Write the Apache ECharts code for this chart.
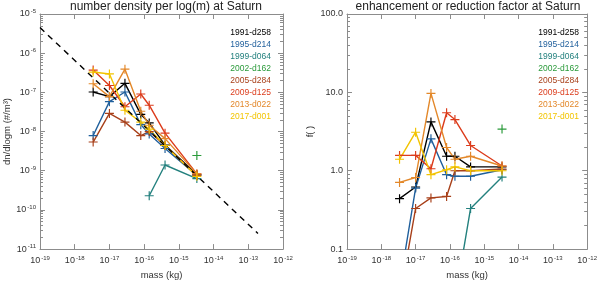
<!DOCTYPE html>
<html><head><meta charset="utf-8">
<script src="https://cdn.jsdelivr.net/npm/echarts@6/dist/echarts.min.js"></script>
<style>html,body{margin:0;padding:0;background:#fff}#c{width:600px;height:285px}</style>
</head><body><div id="c"></div>
<script>
// ---- data ----
const massKg = [3.4e-18, 1.0e-17, 2.8e-17, 8.0e-17, 1.4e-16, 4.0e-16, 3.3e-15];
const seriesNames = ['1991-d258','1995-d214','1999-d064','2002-d162','2005-d284','2009-d125','2013-d022','2017-d001'];
const seriesColors = ['#000000','#1f5f9c','#23807e','#2a9a3a','#a8401a','#dc3c1c','#e3882a','#f2c400'];
// number density dn/dlogm (#/m^3)
const dens1991 = [1.02e-7, 7.8e-8, 1.7e-7, 2.75e-8, 1.66e-8, 4.5e-9, 8.0e-10];
const dens1995 = [7.9e-9, 5.8e-8, 1.02e-7, 1.5e-8, 8.7e-9, 3.7e-9, 7.6e-10];
const dens1999 = [null, null, null, null, 2.3e-10, 1.4e-9, 6.3e-10];
const dens2002 = [null, null, null, null, null, null, 2.45e-9];
const dens2005 = [5.4e-9, 2.9e-8, 1.74e-8, 7.9e-9, 1.0e-8, 4.4e-9, 7.6e-10];
const dens2009 = [3.7e-7, 1.5e-7, 4.3e-8, 9.1e-8, 4.7e-8, 9.1e-9, 8.3e-10];
const dens2013 = [1.66e-7, 7.8e-8, 3.9e-7, 3.3e-8, 1.45e-8, 6.6e-9, 8.3e-10];
const dens2017 = [3.3e-7, 2.95e-7, 3.5e-8, 1.74e-8, 1.15e-8, 4.4e-9, 7.2e-10];
// enhancement / reduction factor f
const fac1991 = [0.44, 0.62, 4.2, 1.53, 1.53, 1.12, 1.12];
const fac1995 = [0.034, 0.6, 2.55, 0.89, 0.85, 0.85, 1.03];
const fac1999 = [null, null, null, null, 0.022, 0.33, 0.83];
const fac2002 = [null, null, null, null, null, null, 3.4];
const fac2005 = [0.023, 0.33, 0.45, 0.47, 1.0, 1.0, 1.05];
const fac2009 = [1.57, 1.57, 1.06, 5.5, 4.5, 2.1, 1.15];
const fac2013 = [0.71, 0.82, 9.7, 1.98, 1.4, 1.53, 1.15];
const fac2017 = [1.4, 3.1, 0.89, 1.03, 1.12, 1.0, 1.0];
// reference (dashed) power law: endpoints
const refMass = [1e-19, 1.9e-13];
const refDens = [4.5e-6, 2.5e-11];
// tick labels
const xTickExps = [-19, -18, -17, -16, -15, -14, -13, -12];
const leftYExps = [-11, -10, -9, -8, -7, -6, -5];
const rightYLabels = ['0.1', '1.0', '10.0', '100.0'];
const titles = ['number density per log(m) at Saturn', 'enhancement or reduction factor at Saturn'];

const densSets = [dens1991, dens1995, dens1999, dens2002, dens2005, dens2009, dens2013, dens2017];
const facSets = [fac1991, fac1995, fac1999, fac2002, fac2005, fac2009, fac2013, fac2017];

// ---- chart ----
const chart = echarts.init(document.getElementById('c'), null, {renderer: 'canvas'});
const FONT = 'Liberation Sans, Arial, sans-serif';
const axisCol = '#8c8c8c';
const labCol = '#333';
const plus = 'path://M-0.13,-1H0.13V-0.13H1V0.13H0.13V1H-0.13V0.13H-1V-0.13H-0.13Z';

function pairs(arr) {
  const out = [];
  arr.forEach((v, i) => { if (v !== null) out.push([massKg[i], v]); });
  return out;
}
function expLabel(v) {
  const e = Math.round(Math.log10(v));
  return '{b|10}{s|' + e + '}';
}
const richLab = {
  b: {fontSize: 9, color: labCol, fontFamily: FONT},
  s: {fontSize: 6, color: labCol, fontFamily: FONT, verticalAlign: 'top', padding: [0, 0, 5, 1]}
};
const grids = [
  {left: 40, right: 317, top: 14, bottom: 27},
  {left: 347, right: 11, top: 14, bottom: 27}
];
function xAxisDef(g, pos, show) {
  return {
    type: 'log', gridIndex: g, position: pos, min: Math.pow(10, xTickExps[0]), max: Math.pow(10, xTickExps[xTickExps.length - 1]),
    logBase: 10,
    axisLine: {show: true, lineStyle: {color: axisCol, width: 1}},
    axisTick: {show: true, inside: true, length: 5, lineStyle: {color: axisCol}},
    minorTick: {show: false},
    splitLine: {show: false},
    axisLabel: show ? {formatter: v => expLabel(v), rich: richLab, margin: 6, showMinLabel: true, showMaxLabel: true} : {show: false},
    name: show ? 'mass (kg)' : '', nameLocation: 'middle', nameGap: 16,
    nameTextStyle: {fontSize: 9.5, color: labCol, fontFamily: FONT}
  };
}
function yAxisDef(g, pos, show, min, max, fmt, name, gap) {
  return {
    type: 'log', gridIndex: g, position: pos, min: min, max: max, logBase: 10,
    axisLine: {show: true, lineStyle: {color: axisCol, width: 1}},
    axisTick: {show: true, inside: true, length: 5, lineStyle: {color: axisCol}},
    minorTick: {show: true, splitNumber: 9, length: 3, lineStyle: {color: axisCol}},
    splitLine: {show: false},
    axisLabel: show ? {formatter: fmt, rich: richLab, margin: 4, fontSize: 9, color: labCol, fontFamily: FONT, showMinLabel: true, showMaxLabel: true} : {show: false},
    name: show ? name : '', nameLocation: 'middle', nameGap: gap,
    nameTextStyle: {fontSize: 9.5, color: labCol, fontFamily: FONT}
  };
}
const series = [];
seriesNames.forEach((nm, i) => {
  series.push({
    type: 'line', name: nm, xAxisIndex: 0, yAxisIndex: 0, data: pairs(densSets[i]),
    symbol: plus, symbolSize: 9, color: seriesColors[i], lineStyle: {width: 1.4, color: seriesColors[i]},
    itemStyle: {color: seriesColors[i]}, clip: true, animation: false
  });
  series.push({
    type: 'line', name: nm + ' f', xAxisIndex: 2, yAxisIndex: 2, data: pairs(facSets[i]),
    symbol: plus, symbolSize: 9, color: seriesColors[i], lineStyle: {width: 1.4, color: seriesColors[i]},
    itemStyle: {color: seriesColors[i]}, clip: true, animation: false
  });
});
series.push({
  type: 'line', name: 'ref', xAxisIndex: 0, yAxisIndex: 0,
  data: refMass.map((m, i) => [m, refDens[i]]), symbol: 'none',
  lineStyle: {type: [6, 5], color: '#000', width: 1.4}, clip: true, animation: false
});

const legendTexts = [];
seriesNames.forEach((nm, i) => {
  [271, 579].forEach(x => legendTexts.push({
    type: 'text', right: 600 - x, top: 28 + i * 12,
    style: {text: nm, fill: seriesColors[i], font: '8.5px ' + FONT, textAlign: 'right'}
  }));
});
// titles as centred text
const titleTexts = [[166, titles[0]], [468, titles[1]]].map(([cx, t]) => ({
  type: 'text', x: cx, y: 1,
  style: {text: t, fill: '#222', font: '12px ' + FONT, textAlign: 'center', textVerticalAlign: 'top'}
}));

chart.setOption({
  animation: false,
  backgroundColor: '#fff',
  grid: grids,
  xAxis: [xAxisDef(0, 'bottom', true), xAxisDef(0, 'top', false), xAxisDef(1, 'bottom', true), xAxisDef(1, 'top', false)],
  yAxis: [
    yAxisDef(0, 'left', true, Math.pow(10, leftYExps[0]), Math.pow(10, leftYExps[leftYExps.length - 1]), v => expLabel(v), 'dn/dlogm (#/m³)', 27),
    yAxisDef(0, 'right', false, Math.pow(10, leftYExps[0]), Math.pow(10, leftYExps[leftYExps.length - 1])),
    yAxisDef(1, 'left', true, parseFloat(rightYLabels[0]), parseFloat(rightYLabels[rightYLabels.length - 1]), v => {
      const e = Math.round(Math.log10(v)); return rightYLabels[e + 1];
    }, 'f( )', 32),
    yAxisDef(1, 'right', false, parseFloat(rightYLabels[0]), parseFloat(rightYLabels[rightYLabels.length - 1]))
  ],
  series: series,
  graphic: titleTexts.concat(legendTexts)
});
</script></body></html>
